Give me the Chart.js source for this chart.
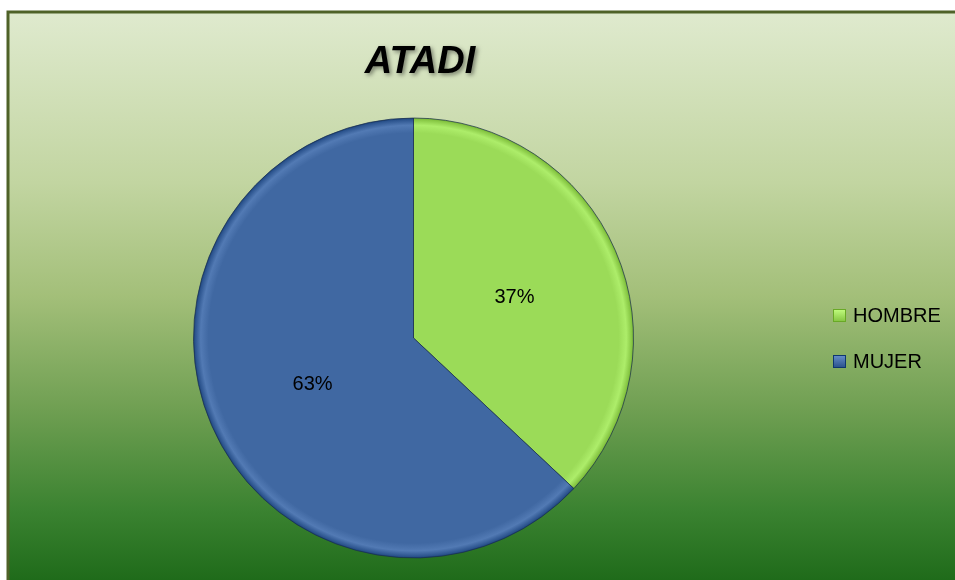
<!DOCTYPE html>
<html>
<head>
<meta charset="utf-8">
<script src="https://cdn.jsdelivr.net/npm/chart.js@4"></script>
<style>
  html, body { margin: 0; padding: 0; background: #fff; }
  #wrap { width: 955px; height: 580px; position: relative; }
</style>
</head>
<body>
<div id="wrap"><canvas id="pie" width="955" height="580"></canvas></div>
<script>
const chartTitle = 'ATADI';
const categories = ['HOMBRE', 'MUJER'];
const shares = [37, 63];
const sliceColors = ['#9bdb58', '#4068a2'];

// frame + gradient background of the chart box
const backdrop = {
  id: 'backdrop',
  beforeDraw(chart) {
    const c = chart.ctx;
    c.save();
    c.fillStyle = '#fff';
    c.fillRect(0, 0, chart.width, chart.height);
    const g = c.createLinearGradient(0, 12, 0, 580);
    g.addColorStop(0, '#dfeace');
    g.addColorStop(0.3, '#c2d5a1');
    g.addColorStop(0.5, '#a3bf79');
    g.addColorStop(0.7, '#6f9f52');
    g.addColorStop(0.88, '#3a8230');
    g.addColorStop(1, '#1f6b1a');
    c.fillStyle = g;
    c.fillRect(8, 12, 950, 575);
    c.strokeStyle = '#4f6228';
    c.lineWidth = 3;
    c.strokeRect(8, 12, 960, 590);

    c.font = 'italic bold 38px "Liberation Sans", Arial, sans-serif';
    c.textAlign = 'center';
    c.textBaseline = 'alphabetic';
    c.shadowColor = 'rgba(0,0,0,0.45)';
    c.shadowBlur = 4;
    c.shadowOffsetX = 2;
    c.shadowOffsetY = 2;
    c.fillStyle = '#000';
    c.fillText(chartTitle, 420, 73);
    c.restore();
  },
  afterDraw(chart) {
    const c = chart.ctx;
    const meta = chart.getDatasetMeta(0);
    c.save();
    c.font = '20px "Liberation Sans", Arial, sans-serif';
    c.fillStyle = '#000';
    c.textAlign = 'center';
    c.textBaseline = 'middle';
    meta.data.forEach((arc, i) => {
      const p = arc.getCenterPoint();
      c.fillText(shares[i] + '%', p.x, p.y + 3);
    });
    // legend
    c.textAlign = 'left';
    categories.forEach((name, i) => {
      const y = 315 + i * 46;
      const x = 833;
      const g = c.createLinearGradient(0, y - 6, 0, y + 7);
      g.addColorStop(0, shade(sliceColors[i], 40));
      g.addColorStop(1, shade(sliceColors[i], -25));
      c.fillStyle = g;
      c.fillRect(x, y - 6, 13, 13);
      c.strokeStyle = shade(sliceColors[i], -50);
      c.lineWidth = 1;
      c.strokeRect(x + 0.5, y - 5.5, 12, 12);
      c.fillStyle = '#000';
      c.fillText(name, 853, y + 1);
    });
    c.restore();
  }
};

function shade(hex, amt) {
  const n = parseInt(hex.slice(1), 16);
  const f = (v) => Math.max(0, Math.min(255, v + amt));
  const r = f(n >> 16), g = f((n >> 8) & 255), b = f(n & 255);
  return `rgb(${r},${g},${b})`;
}

// bevelled slice fill
function sliceFill(ctx) {
  const chart = ctx.chart;
  const base = sliceColors[ctx.dataIndex];
  const area = chart.chartArea;
  if (!area) return base;
  const cx = (area.left + area.right) / 2;
  const cy = (area.top + area.bottom) / 2;
  const r = Math.min(area.right - area.left, area.bottom - area.top) / 2;
  const g = chart.ctx.createRadialGradient(cx, cy, 0, cx, cy, r);
  g.addColorStop(0, base);
  g.addColorStop(0.93, base);
  g.addColorStop(0.965, shade(base, 18));
  g.addColorStop(0.99, shade(base, -20));
  g.addColorStop(1, shade(base, -45));
  return g;
}

new Chart(document.getElementById('pie'), {
  type: 'pie',
  data: {
    labels: categories,
    datasets: [{
      data: shares,
      backgroundColor: sliceFill,
      borderColor: 'rgba(25,45,75,0.7)',
      borderWidth: 1
    }]
  },
  options: {
    responsive: false,
    animation: false,
    layout: { padding: { left: 193, right: 321, top: 117.5, bottom: 21.5 } },
    plugins: {
      legend: { display: false },
      title: { display: false },
      tooltip: { enabled: false }
    }
  },
  plugins: [backdrop]
});
</script>
</body>
</html>
